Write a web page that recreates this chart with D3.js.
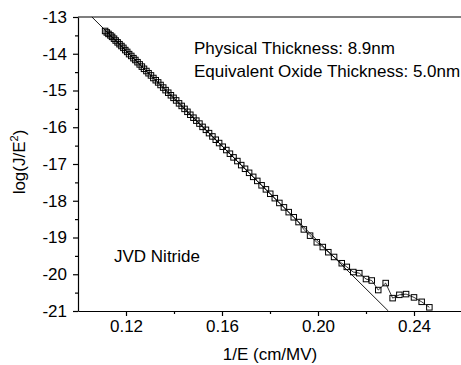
<!DOCTYPE html>
<html>
<head>
<meta charset="utf-8">
<script src="https://cdn.jsdelivr.net/npm/d3@7"></script>
<style>
html,body{margin:0;padding:0;background:#fff;}
svg{display:block;font-family:"Liberation Sans",Arial,sans-serif;}
</style>
</head>
<body>
<svg id="chart" width="461" height="365"></svg>
<script>
// 1/E values (cm/MV)
const invE = [
0.1113,0.1120,0.1127,0.1135,0.1142,0.1150,0.1157,0.1165,0.1173,0.1181,
0.1189,0.1197,0.1205,0.1213,0.1222,0.1231,0.1239,0.1248,0.1257,0.1266,
0.1275,0.1285,0.1294,0.1304,0.1314,0.1324,0.1334,0.1344,0.1355,0.1365,
0.1376,0.1387,0.1398,0.1409,0.1421,0.1432,0.1444,0.1456,0.1468,0.1481,
0.1493,0.1506,0.1519,0.1533,0.1546,0.1560,0.1574,0.1588,0.1603,0.1618,
0.1633,0.1648,0.1664,0.1680,0.1696,0.1713,0.1730,0.1747,0.1765,0.1783,
0.1801,0.1820,0.1839,0.1858,0.1878,0.1899,0.1919,
0.1941,0.1967,0.1995,0.2020,0.2043,0.2067,0.2099,0.2120,0.2147,0.2172,
0.2200,0.2224,0.2251,0.2282,0.2311,0.2339,0.2367,0.2400,0.2432,0.2464
];
// log(J/E^2) measured
const logJE2 = [
-13.38,-13.42,-13.46,-13.50,-13.54,-13.59,-13.64,-13.69,-13.74,-13.79,
-13.84,-13.90,-13.95,-14.01,-14.06,-14.12,-14.17,-14.23,-14.29,-14.35,
-14.41,-14.47,-14.53,-14.59,-14.66,-14.72,-14.78,-14.85,-14.92,-14.99,
-15.06,-15.13,-15.20,-15.27,-15.35,-15.42,-15.50,-15.58,-15.66,-15.74,
-15.82,-15.90,-15.99,-16.07,-16.16,-16.25,-16.34,-16.43,-16.53,-16.62,
-16.72,-16.82,-16.92,-17.03,-17.13,-17.24,-17.35,-17.46,-17.58,-17.69,
-17.81,-17.93,-18.06,-18.18,-18.31,-18.45,-18.58,
-18.78,-18.95,-19.13,-19.26,-19.40,-19.53,-19.70,-19.80,-19.94,-19.97,
-20.13,-20.17,-20.43,-20.24,-20.65,-20.56,-20.54,-20.63,-20.75,-20.90
];
// Fowler-Nordheim fit line endpoints
const fitX = [0.1058, 0.2293];
const fitY = [-13, -21];

const xMajor = [0.12, 0.16, 0.20, 0.24];
const xMinor = [0.14, 0.18, 0.22];
const yMajor = [-13, -14, -15, -16, -17, -18, -19, -20, -21];
const yMinor = [-13.5, -14.5, -15.5, -16.5, -17.5, -18.5, -19.5, -20.5];
const xLabelText = "1/E (cm/MV)";
const annotations = ["Physical Thickness: 8.9nm", "Equivalent Oxide Thickness: 5.0nm"];
const sampleLabel = "JVD Nitride";

const svg = d3.select("#chart");
const L = 78, R = 462, T = 17, B = 311;
const x = d3.scaleLinear().domain([0.10, 0.26]).range([L, R]);
const y = d3.scaleLinear().domain([-21, -13]).range([B, T]);

svg.append("defs").append("clipPath").attr("id","clip")
  .append("rect").attr("x",L-4).attr("y",T-4).attr("width",R-L+8).attr("height",B-T+4);

const FS = 17;

// axes
svg.append("g").attr("transform",`translate(0,${B})`)
  .call(d3.axisBottom(x).tickValues(xMajor).tickSize(5).tickSizeOuter(0).tickPadding(4)
    .tickFormat(d => d.toFixed(2)));
svg.append("g").attr("transform",`translate(0,${B})`)
  .call(d3.axisBottom(x).tickValues(xMinor).tickSize(3).tickSizeOuter(0).tickFormat(""))
  .select(".domain").remove();
svg.append("g").attr("transform",`translate(${L},0)`)
  .call(d3.axisLeft(y).tickValues(yMajor).tickSize(5).tickSizeOuter(0).tickPadding(6)
    .tickFormat(d => String(d)));
svg.append("g").attr("transform",`translate(${L},0)`)
  .call(d3.axisLeft(y).tickValues(yMinor).tickSize(3).tickSizeOuter(0).tickFormat(""))
  .select(".domain").remove();
svg.selectAll(".tick text").attr("font-size",FS).attr("font-family","Liberation Sans, Arial, sans-serif").attr("fill","#000");
svg.selectAll(".domain, .tick line").attr("stroke","#000").attr("stroke-width",1.2);
// top frame
svg.append("line").attr("x1",L).attr("x2",R).attr("y1",T).attr("y2",T)
  .attr("stroke","#000").attr("stroke-width",1.2);

const plot = svg.append("g").attr("clip-path","url(#clip)");
// fit line (clipped to the frame)
const fitG = plot.append("g");
fitG.append("line")
  .attr("x1",x(fitX[0])).attr("y1",y(fitY[0]))
  .attr("x2",x(fitX[1])).attr("y2",y(fitY[1]))
  .attr("stroke","#000").attr("stroke-width",0.9);

const pts = invE.map((v,i)=>[v, logJE2[i]]);
plot.append("path").datum(pts)
  .attr("d", d3.line().x(d=>x(d[0])).y(d=>y(d[1])))
  .attr("fill","none").attr("stroke","#000").attr("stroke-width",0.8);
const s = 5.5;
plot.selectAll("rect.pt").data(pts).join("rect").attr("class","pt")
  .attr("x",d=>x(d[0])-s/2).attr("y",d=>y(d[1])-s/2)
  .attr("width",s).attr("height",s)
  .attr("fill","none").attr("stroke","#000").attr("stroke-width",1);

// labels
svg.append("text").attr("x",270).attr("y",360).attr("text-anchor","middle")
  .attr("font-size",FS).text(xLabelText);
const yl = svg.append("text").attr("transform","translate(25,162) rotate(-90)")
  .attr("text-anchor","middle").attr("font-size",FS);
yl.append("tspan").text("log(J/E");
yl.append("tspan").attr("font-size",11).attr("dy",-7).text("2");
yl.append("tspan").attr("dy",7).text(")");

svg.append("text").attr("x",194).attr("y",54).attr("font-size",FS).text(annotations[0]);
svg.append("text").attr("x",194).attr("y",77).attr("font-size",FS).text(annotations[1]);
svg.append("text").attr("x",114).attr("y",262).attr("font-size",FS).text(sampleLabel);
</script>
</body>
</html>
